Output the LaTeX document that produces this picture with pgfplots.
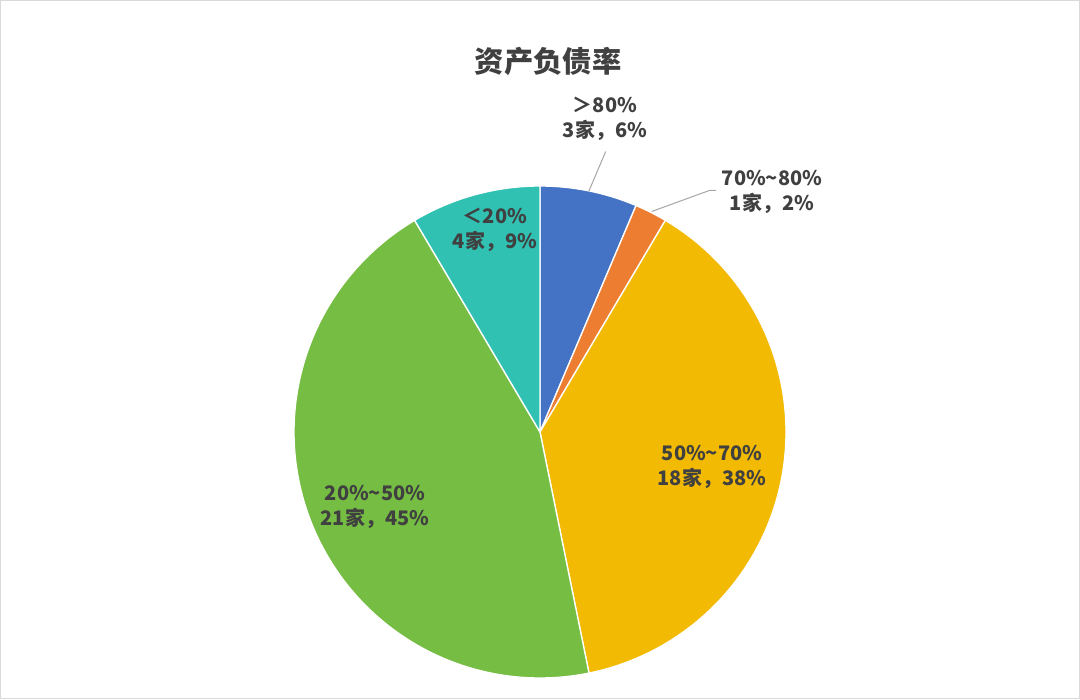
\documentclass[border=0pt]{standalone}
\usepackage{pgfplots}
\pgfplotsset{compat=1.18}
\usepackage{fontspec}
\newfontfamily\cjk{Noto Sans CJK SC}
\definecolor{cA}{HTML}{4472C4}
\definecolor{cB}{HTML}{ED7D31}
\definecolor{cC}{HTML}{F2BA02}
\definecolor{cD}{HTML}{76BD43}
\definecolor{cE}{HTML}{30C1B3}
\definecolor{txt}{HTML}{404040}
\definecolor{lead}{HTML}{A6A6A6}
% counts per class: >80%, 70%~80%, 50%~70%, 20%~50%, <20%
\def\nA{3}\def\nB{1}\def\nC{18}\def\nD{21}\def\nE{4}
\begin{document}
\begin{tikzpicture}
\pgfmathsetmacro{\tot}{\nA+\nB+\nC+\nD+\nE}
\pgfmathsetmacro{\aA}{90}
\pgfmathsetmacro{\aB}{\aA-360*\nA/\tot}
\pgfmathsetmacro{\aC}{\aB-360*\nB/\tot}
\pgfmathsetmacro{\aD}{\aC-360*\nC/\tot}
\pgfmathsetmacro{\aE}{\aD-360*\nD/\tot}
\pgfmathsetmacro{\aF}{\aE-360*\nE/\tot}
\begin{axis}[
  width=810pt, height=524.25pt, scale only axis,
  xmin=0, xmax=1080, ymin=0, ymax=699,
  hide axis, clip=false,
  every axis plot/.append style={line join=round},
]
\draw[color=black!15, line width=0.75pt] (axis cs:0.5,0.5) rectangle (axis cs:1079.5,698.5);
\addplot[fill=cA, draw=white, line width=1pt, domain=\aA:\aB, samples=40, variable=\t]
  ({540+246*cos(t)},{267+246*sin(t)}) -- (axis cs:540,267) -- cycle;
\addplot[fill=cB, draw=white, line width=1pt, domain=\aB:\aC, samples=20, variable=\t]
  ({540+246*cos(t)},{267+246*sin(t)}) -- (axis cs:540,267) -- cycle;
\addplot[fill=cC, draw=white, line width=1pt, domain=\aC:\aD, samples=160, variable=\t]
  ({540+246*cos(t)},{267+246*sin(t)}) -- (axis cs:540,267) -- cycle;
\addplot[fill=cD, draw=white, line width=1pt, domain=\aD:\aE, samples=180, variable=\t]
  ({540+246*cos(t)},{267+246*sin(t)}) -- (axis cs:540,267) -- cycle;
\addplot[fill=cE, draw=white, line width=1pt, domain=\aE:\aF, samples=40, variable=\t]
  ({540+246*cos(t)},{267+246*sin(t)}) -- (axis cs:540,267) -- cycle;
% leader lines
\addplot[lead, line width=0.75pt] coordinates {(588.7,507.5) (605.7,547.5)};
\addplot[lead, line width=0.75pt] coordinates {(651.7,487.5) (709.3,508.5) (716,508.5)};
% title
\node[font=\cjk\bfseries\fontsize{22}{26}\selectfont, text=txt] at (axis cs:548,638) {资产负债率};
% labels
\tikzset{lbl/.style={font=\cjk\bfseries\fontsize{15}{18.75}\selectfont, text=txt, align=center}}
\node[lbl] at (axis cs:605,580) {＞80\%\\3家，6\%};
\node[lbl] at (axis cs:772,507.5) {70\%\textasciitilde80\%\\1家，2\%};
\node[lbl] at (axis cs:712,232) {50\%\textasciitilde70\%\\18家，38\%};
\node[lbl] at (axis cs:375,192) {20\%\textasciitilde50\%\\21家，45\%};
\node[lbl] at (axis cs:495,469) {＜20\%\\4家，9\%};
\end{axis}
\end{tikzpicture}
\end{document}
